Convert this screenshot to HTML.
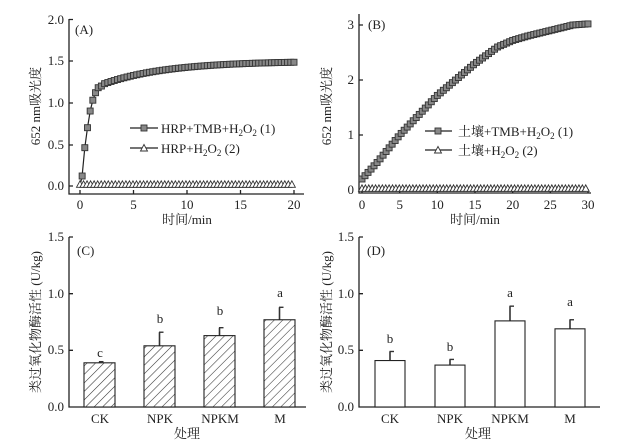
<!DOCTYPE html>
<html><head><meta charset="utf-8"><style>
html,body{margin:0;padding:0;background:#fff;}
svg{display:block;}
text{font-family:"Liberation Serif","Noto Serif CJK SC",serif;fill:#222;}
</style></head><body>
<svg id="s" width="633" height="443" viewBox="0 0 633 443" xmlns="http://www.w3.org/2000/svg">
<defs>
<pattern id="h" patternUnits="userSpaceOnUse" width="6" height="6" patternTransform="rotate(45)">
<rect width="6" height="6" fill="#fff"/><line x1="0" y1="0" x2="0" y2="6" stroke="#333" stroke-width="1.1"/>
</pattern>
</defs>
<g stroke="#222" stroke-width="1.3" fill="none">
<path d="M69,19 V194 H304"/>
<path d="M69,19.5 h4 M69,61 h4 M69,103 h4 M69,145 h4 M69,186 h4 M80,194 v-4 M133.5,194 v-4 M187,194 v-4 M240.5,194 v-4 M294,194 v-4"/>
<path d="M359,14 V193 H591"/>
<path d="M359,25 h4 M359,80 h4 M359,135 h4 M359,190 h4 M362,193 v-4 M399.7,193 v-4 M437.3,193 v-4 M475,193 v-4 M512.7,193 v-4 M550.3,193 v-4 M588,193 v-4"/>
<path d="M69,237 V407 H306"/>
<path d="M69,237 h4 M69,293.7 h4 M69,350.3 h4"/>
<path d="M359,237 V407 H600"/>
<path d="M359,237 h4 M359,293.7 h4 M359,350.3 h4"/>
</g>
<g id="series"></g>
<g font-size="13" text-anchor="end">
<text x="64" y="24">2.0</text><text x="64" y="65">1.5</text><text x="64" y="107">1.0</text><text x="64" y="149">0.5</text><text x="64" y="190">0.0</text>
<text x="354" y="29">3</text><text x="354" y="84">2</text><text x="354" y="139">1</text><text x="354" y="194">0</text>
<text x="64" y="241">1.5</text><text x="64" y="298">1.0</text><text x="64" y="354">0.5</text><text x="64" y="411">0.0</text>
<text x="354" y="241">1.5</text><text x="354" y="298">1.0</text><text x="354" y="354">0.5</text><text x="354" y="411">0.0</text>
</g>
<g font-size="13" text-anchor="middle">
<text x="80" y="209">0</text><text x="133.5" y="209">5</text><text x="187" y="209">10</text><text x="240.5" y="209">15</text><text x="294" y="209">20</text>
<text x="187" y="224">时间/min</text>
<text x="362" y="209">0</text><text x="399.7" y="209">5</text><text x="437.3" y="209">10</text><text x="475" y="209">15</text><text x="512.7" y="209">20</text><text x="550.3" y="209">25</text><text x="588" y="209">30</text>
<text x="475" y="224">时间/min</text>
<text x="100" y="423">CK</text><text x="160" y="423">NPK</text><text x="220" y="423">NPKM</text><text x="280" y="423">M</text>
<text x="187" y="438">处理</text>
<text x="390" y="423">CK</text><text x="450" y="423">NPK</text><text x="510" y="423">NPKM</text><text x="570" y="423">M</text>
<text x="478" y="438">处理</text>
<text x="100" y="357">c</text><text x="160" y="323">b</text><text x="220" y="315">b</text><text x="280" y="297">a</text>
<text x="390" y="343">b</text><text x="450" y="351">b</text><text x="510" y="297">a</text><text x="570" y="306">a</text>
</g>
<g font-size="13">
<text x="75" y="34">(A)</text><text x="368" y="29">(B)</text><text x="77" y="255">(C)</text><text x="367" y="255">(D)</text>
<text x="161" y="133">HRP+TMB+H<tspan font-size="9" dy="3">2</tspan><tspan dy="-3">O</tspan><tspan font-size="9" dy="3">2</tspan><tspan dy="-3"> (1)</tspan></text>
<text x="161" y="153">HRP+H<tspan font-size="9" dy="3">2</tspan><tspan dy="-3">O</tspan><tspan font-size="9" dy="3">2</tspan><tspan dy="-3"> (2)</tspan></text>
<text x="458" y="136">土壤+TMB+H<tspan font-size="9" dy="3">2</tspan><tspan dy="-3">O</tspan><tspan font-size="9" dy="3">2</tspan><tspan dy="-3"> (1)</tspan></text>
<text x="458" y="155">土壤+H<tspan font-size="9" dy="3">2</tspan><tspan dy="-3">O</tspan><tspan font-size="9" dy="3">2</tspan><tspan dy="-3"> (2)</tspan></text>
</g>
<g font-size="13" text-anchor="middle">
<text transform="translate(40,106) rotate(-90)">652 nm吸光度</text>
<text transform="translate(331,106) rotate(-90)">652 nm吸光度</text>
<text transform="translate(40,322) rotate(-90)">类过氧化物酶活性 (U/kg)</text>
<text transform="translate(331,322) rotate(-90)">类过氧化物酶活性 (U/kg)</text>
</g>
</svg>
<script>
var g=document.getElementById('series'),h='';
function sq(x,y){h+='<rect x="'+(x-3)+'" y="'+(y-3)+'" width="6" height="6" fill="#888" stroke="#333" stroke-width="0.9"/>';}
function tri(x,y){h+='<path d="M'+x+','+(y-3.5)+' l3.5,6.5 h-7z" fill="#fff" stroke="#333" stroke-width="0.9"/>';}
function interp(p,t){for(var i=1;i<p.length;i++){if(t<=p[i][0]){var a=p[i-1],b=p[i];return a[1]+(b[1]-a[1])*(t-a[0])/(b[0]-a[0]);}}return p[p.length-1][1];}
var ax=function(t){return 80+t*10.7},ay=function(v){return 186-v*83.3};
var pa=[[0,0],[0.2,0.12],[0.45,0.46],[0.7,0.7],[0.95,0.9],[1.2,1.03],[1.45,1.12],[1.7,1.18],[2,1.2]];
for(var t=2.3;t<=20.01;t+=0.3){pa.push([t,1.2+0.3*(1-Math.exp(-(t-1.7)/6))]);}
var d='';pa.forEach(function(p,i){d+=(i?'L':'M')+ax(p[0]).toFixed(1)+','+ay(p[1]).toFixed(1)});
h+='<path d="'+d+'" fill="none" stroke="#222" stroke-width="1.2"/>';
h+='<line x1="'+ax(0)+'" y1="'+ay(0.02)+'" x2="'+ax(20)+'" y2="'+ay(0.02)+'" stroke="#222" stroke-width="1"/>';
for(var t=0;t<=20.01;t+=0.33)tri(ax(t),ay(0.02));
pa.slice(1).forEach(function(p){sq(ax(p[0]),ay(p[1]))});
h+='<line x1="130" y1="128" x2="158" y2="128" stroke="#222" stroke-width="1.2"/>';sq(144,128);
h+='<line x1="130" y1="148" x2="158" y2="148" stroke="#222" stroke-width="1.2"/>';tri(144,148);
var bx=function(t){return 362+t*7.533},by=function(v){return 190-v*55};
var kb=[[0,0.2],[2,0.5],[5,1.0],[10,1.72],[15,2.3],[18,2.6],[20,2.72],[22,2.8],[25,2.9],[28,3.0],[30,3.02]];
h+='<line x1="'+bx(0)+'" y1="'+by(0.03)+'" x2="'+bx(30)+'" y2="'+by(0.03)+'" stroke="#222" stroke-width="1"/>';
for(var t=0;t<=30.01;t+=0.45)tri(bx(t),by(0.03));
for(var t=0;t<=30.01;t+=0.4)sq(bx(t),by(interp(kb,t)));
h+='<line x1="425" y1="131" x2="452" y2="131" stroke="#222" stroke-width="1.2"/>';sq(438,131);
h+='<line x1="425" y1="150" x2="452" y2="150" stroke="#222" stroke-width="1.2"/>';tri(438,150);
var cy=function(v){return 407-v*113.3};
function bar(x,w,v,e,fill){h+='<line x1="'+(x+w/2)+'" y1="'+cy(v)+'" x2="'+(x+w/2)+'" y2="'+cy(e)+'" stroke="#333" stroke-width="1.6"/><line x1="'+(x+w/2-0.5)+'" y1="'+cy(e)+'" x2="'+(x+w/2+4)+'" y2="'+cy(e)+'" stroke="#333" stroke-width="1.4"/>';
h+='<rect x="'+x+'" y="'+cy(v)+'" width="'+w+'" height="'+(v*113.3)+'" fill="'+fill+'" stroke="#222" stroke-width="1.1"/>';}
bar(84,31,0.39,0.40,'url(#h)');bar(144,31,0.54,0.66,'url(#h)');bar(204,31,0.63,0.70,'url(#h)');bar(264,31,0.77,0.88,'url(#h)');
bar(375,30,0.41,0.49,'#fff');bar(435,30,0.37,0.42,'#fff');bar(495,30,0.76,0.89,'#fff');bar(555,30,0.69,0.77,'#fff');
g.innerHTML=h;
</script>
</body></html>
